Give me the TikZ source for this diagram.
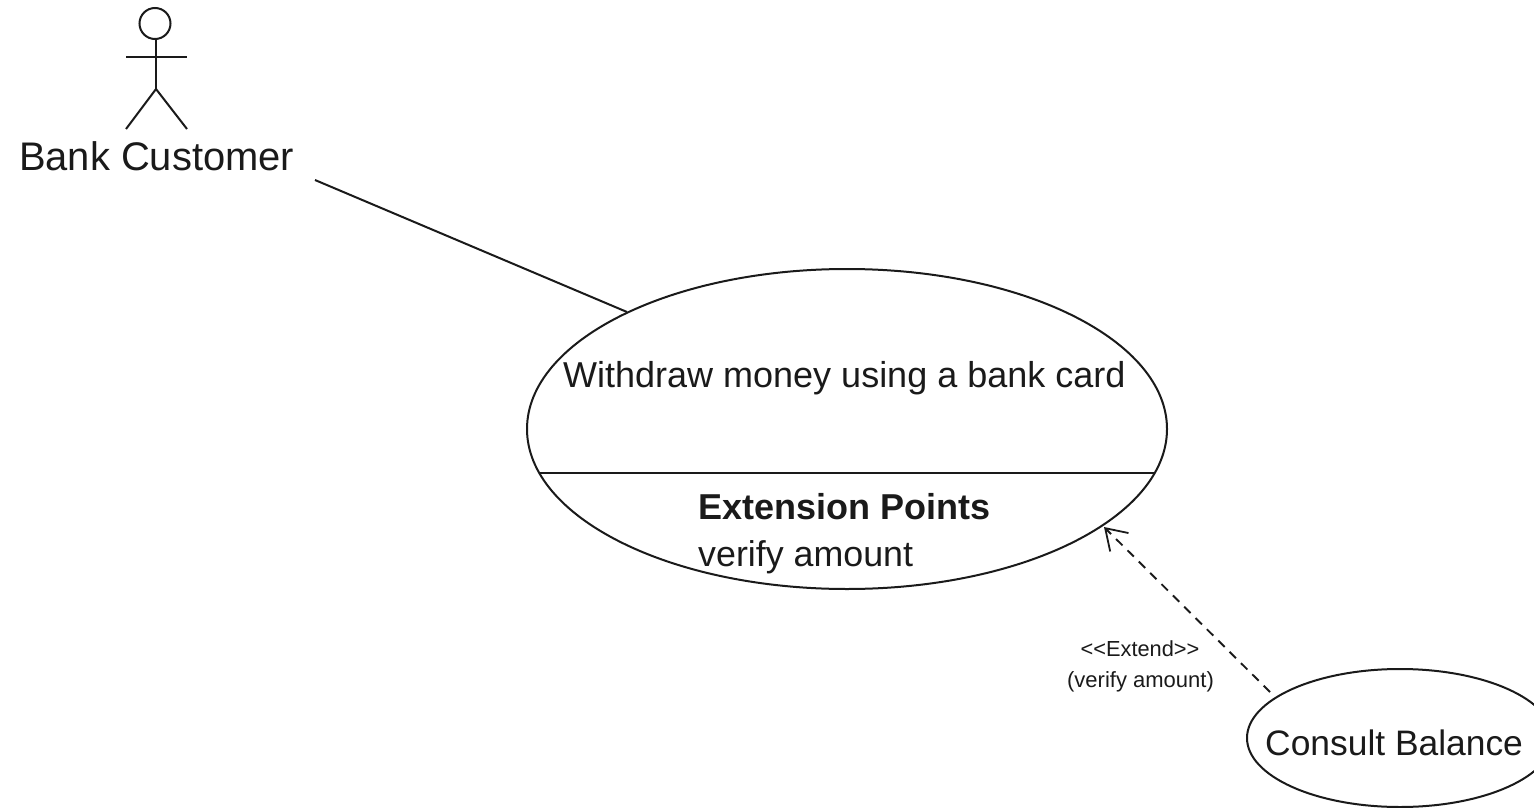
\documentclass[tikz,border=0pt]{standalone}
\usepackage{fontspec}
\setmainfont{Liberation Sans}
\usetikzlibrary{shapes.geometric,arrows.meta}
\definecolor{ink}{HTML}{1A1A1A}
\tikzset{
  usecase/.style={draw=ink,ellipse,line width=2pt,inner sep=0pt},
  figure line/.style={draw=ink,line width=2pt},
  assoc/.style={draw=ink,line width=2pt},
  extendline/.style={draw=ink,line width=1.9pt,dash pattern=on 9pt off 7pt,-{Straight Barb[length=20pt,width=26pt,line width=1.8pt]}},
  lbl/.style={inner sep=0pt,text=ink,anchor=base west},
}
\begin{document}
\begin{tikzpicture}[x=1pt,y=-1pt]
\useasboundingbox (0,0) rectangle (1534,808);
% actor
\node[draw=ink,circle,line width=2pt,minimum size=31pt,inner sep=0pt] (head) at (155,23.5) {};
\coordinate (neck) at (156,39);
\coordinate (hip) at (156,89);
\coordinate (armL) at (126,57);
\coordinate (armR) at (187,57);
\coordinate (legL) at (126,129);
\coordinate (legR) at (187,129);
\draw[figure line] (neck) -- (hip);
\draw[figure line] (armL) -- (armR);
\draw[figure line] (legL) -- (hip) -- (legR);
\node[lbl,font=\fontsize{39.9}{44}\selectfont] (cust) at (19,170) {Bank Customer};
% use cases
\node[usecase,minimum width=640pt,minimum height=320pt] (big) at (847,429) {};
\coordinate (sepL) at (539,473);
\coordinate (sepR) at (1155,473);
\draw[figure line] (sepL) -- (sepR);
\node[lbl,font=\fontsize{36}{40}\selectfont] (title) at (563,387) {Withdraw money using a bank card};
\node[lbl,font=\fontsize{36}{40}\selectfont\bfseries] (ext) at (698,519) {Extension Points};
\node[lbl,font=\fontsize{35.8}{40}\selectfont] (amt) at (698,566) {verify amount};
\node[usecase,minimum width=306pt,minimum height=138pt] (small) at (1400,738) {};
\node[lbl,font=\fontsize{35.4}{40}\selectfont] (cons) at (1265,755) {Consult Balance};
% connectors
\coordinate (custEnd) at (315,180);
\draw[assoc] (custEnd) -- (big.152.4);
\coordinate (extStart) at (1270,692);
\coordinate (extEnd) at (1104,527);
\draw[extendline] (extStart) -- (extEnd);
\node[lbl,font=\fontsize{21.8}{24}\selectfont,anchor=base] (s1) at (1140,656) {<{}<Extend>{}>};
\node[lbl,font=\fontsize{22}{24}\selectfont,anchor=base] (s2) at (1140.5,687) {(verify amount)};
\end{tikzpicture}
\end{document}
